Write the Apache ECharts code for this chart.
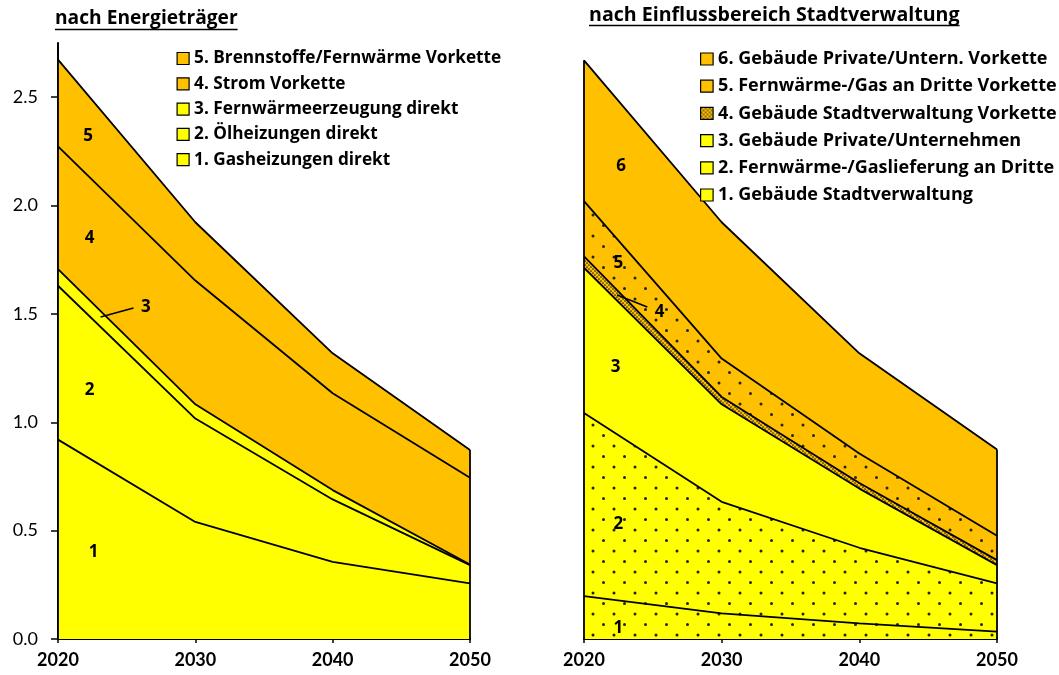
<!DOCTYPE html>
<html><head><meta charset="utf-8">
<script src="https://cdn.jsdelivr.net/npm/echarts@6/dist/echarts.min.js"></script>
<style>html,body{margin:0;padding:0;background:#fff}#c{width:1059px;height:675px}</style>
</head><body><div id="c"></div>
<script>
// ---------- data ----------
const years = [2020, 2030, 2040, 2050];
const yTicks = [0, 0.5, 1, 1.5, 2, 2.5];

const leftTitle = 'nach Energieträger';
const leftNames = ['1. Gasheizungen direkt', '2. Ölheizungen direkt', '3. Fernwärmeerzeugung direkt', '4. Strom Vorkette', '5. Brennstoffe/Fernwärme Vorkette'];
const gasDirekt   = [0.920, 0.540, 0.356, 0.257];
const oelDirekt   = [0.710, 0.477, 0.288, 0.084];
const fwDirekt    = [0.077, 0.066, 0.043, 0.003];
const stromVk     = [0.566, 0.571, 0.447, 0.400];
const brennVk     = [0.400, 0.269, 0.184, 0.128];
const leftLabels  = ['1', '2', '3', '4', '5'];

const rightTitle = 'nach Einflussbereich Stadtverwaltung';
const rightNames = ['1. Gebäude Stadtverwaltung', '2. Fernwärme-/Gaslieferung an Dritte', '3. Gebäude Private/Unternehmen', '4. Gebäude Stadtverwaltung Vorkette', '5. Fernwärme-/Gas an Dritte Vorkette', '6. Gebäude Private/Untern. Vorkette'];
const gebStadt    = [0.198, 0.118, 0.072, 0.034];
const fwDritte    = [0.845, 0.515, 0.349, 0.223];
const gebPrivat   = [0.670, 0.450, 0.273, 0.084];
const gebStadtVk  = [0.052, 0.034, 0.026, 0.023];
const fwDritteVk  = [0.255, 0.177, 0.136, 0.112];
const gebPrivatVk = [0.650, 0.629, 0.462, 0.398];
const rightLabels = ['1', '2', '3', '4', '5', '6'];

// ---------- styling ----------
const YEL = '#FFFF00', ORA = '#FFC000';
const FONT = '"Open Sans"';
const NUMFONT = 'Lato';
const LW = 1.8;

function tile(bg, size, dots, r, dc) {
  const c = document.createElement('canvas');
  c.width = size; c.height = size;
  const g = c.getContext('2d');
  g.fillStyle = bg; g.fillRect(0, 0, size, size);
  g.fillStyle = dc;
  dots.forEach(d => { g.beginPath(); g.arc(d[0], d[1], r, 0, Math.PI * 2); g.fill(); });
  return c;
}
const sparseYel = { image: tile(YEL, 21, [[5, 5], [15.5, 15.5]], 1.5, '#222'), repeat: 'repeat' };
const sparseOra = { image: tile(ORA, 21, [[5, 5], [15.5, 15.5]], 1.5, '#222'), repeat: 'repeat' };
const denseOra  = { image: tile(ORA, 4, [[1, 1], [3, 3]], 0.85, '#222'), repeat: 'repeat' };

const leftFills  = [YEL, YEL, YEL, ORA, ORA];
const rightFills = [sparseYel, sparseYel, YEL, denseOra, sparseOra, ORA];
const rightLegendFills = [YEL, YEL, YEL, denseOra, ORA, ORA];

function cumulate(layers) {
  const out = []; let acc = years.map(() => 0);
  layers.forEach(l => { acc = acc.map((v, i) => v + l[i]); out.push(acc.slice()); });
  return out;
}
const leftCum  = cumulate([gasDirekt, oelDirekt, fwDirekt, stromVk, brennVk]);
const rightCum = cumulate([gebStadt, fwDritte, gebPrivat, gebStadtVk, fwDritteVk, gebPrivatVk]);

function buildSeries(cum, names, fills, gi) {
  const s = [];
  const n = cum.length;
  for (let k = n - 1; k >= 0; k--) {
    const ser = {
      name: names[k], type: 'line', xAxisIndex: gi, yAxisIndex: gi,
      data: years.map((y, i) => [y, cum[k][i]]),
      showSymbol: false, symbol: 'none', silent: true, animation: false,
      lineStyle: { color: '#000', width: LW },
      itemStyle: { color: typeof fills[k] === 'string' ? fills[k] : '#000' },
      areaStyle: { color: fills[k], opacity: 1 },
      z: 2
    };
    if (k === n - 1) {
      const top = cum[k];
      ser.markLine = {
        silent: true, symbol: 'none', animation: false,
        label: { show: false },
        lineStyle: { color: '#000', width: LW, type: 'solid' },
        data: [
          [{ coord: [years[years.length - 1], 0] }, { coord: [years[years.length - 1], top[top.length - 1]] }],
          [{ coord: [years[0], 0] }, { coord: [years[0], top[0]] }]
        ]
      };
    }
    s.push(ser);
  }
  return s;
}

const xAxisBase = (gi) => ({
  type: 'value', gridIndex: gi, min: years[0], max: years[years.length - 1], interval: 10,
  axisLine: { show: true, lineStyle: { color: '#000', width: 2 } },
  axisTick: { show: true, length: 4, lineStyle: { color: '#000', width: 1.5 } },
  axisLabel: { formatter: v => String(v), color: '#000', fontFamily: NUMFONT, fontWeight: 'bold', fontSize: 18, margin: 12 },
  splitLine: { show: false }
});

const option = {
  backgroundColor: '#fff',
  animation: false,
  grid: [
    { left: 58, top: 43, width: 412, height: 596, containLabel: false },
    { left: 584, top: 43, width: 413, height: 596, containLabel: false }
  ],
  xAxis: [xAxisBase(0), xAxisBase(1)],
  yAxis: [
    {
      type: 'value', gridIndex: 0, min: 0, max: 2.75, interval: 0.5,
      axisLine: { show: true, lineStyle: { color: '#000', width: 2 } },
      axisTick: { show: true, length: 7, customValues: yTicks, lineStyle: { color: '#000', width: 1.5 } },
      axisLabel: { customValues: yTicks, formatter: v => Number(v).toFixed(1), color: '#000', fontFamily: NUMFONT, fontSize: 18, margin: 20 },
      splitLine: { show: false }
    },
    {
      type: 'value', gridIndex: 1, min: 0, max: 2.75, interval: 0.5,
      axisLine: { show: false }, axisTick: { show: false }, axisLabel: { show: false }, splitLine: { show: false }
    }
  ],
  legend: [
    {
      orient: 'vertical', left: 171.5, top: 45, icon: 'rect', itemWidth: 12, itemHeight: 12, itemGap: 8.3,
      selectedMode: false,
      textStyle: { fontFamily: FONT, fontWeight: 'bold', fontSize: 17.2, lineHeight: 17, color: '#000' },
      data: leftNames.slice().reverse().map((n) => {
        const k = leftNames.indexOf(n);
        return { name: n, itemStyle: { color: leftFills[k], borderColor: '#000', borderWidth: 1.2 } };
      })
    },
    {
      orient: 'vertical', left: 695, top: 45, icon: 'rect', itemWidth: 12.5, itemHeight: 12, itemGap: 9.2,
      selectedMode: false,
      textStyle: { fontFamily: FONT, fontWeight: 'bold', fontSize: 18, lineHeight: 17, color: '#000' },
      data: rightNames.slice().reverse().map((n) => {
        const k = rightNames.indexOf(n);
        return { name: n, itemStyle: { color: rightLegendFills[k], borderColor: '#000', borderWidth: 1.2 } };
      })
    }
  ],
  series: [].concat(
    buildSeries(leftCum, leftNames, leftFills, 0),
    buildSeries(rightCum, rightNames, rightFills, 1)
  )
};

const chart = echarts.init(document.getElementById('c'), null, { renderer: 'canvas' });
chart.setOption(option);

// ---------- annotations (in data coordinates) ----------
const leftLabelPos  = [[2022.6, 0.40], [2022.3, 1.15], [2026.4, 1.53], [2022.3, 1.85], [2022.2, 2.32]];
const leftLeader    = [[2023.1, 1.486], [2025.5, 1.527]];
const rightLabelPos = [[2022.5, 0.05], [2022.5, 0.53], [2022.3, 1.255], [2025.5, 1.51], [2022.5, 1.735], [2022.7, 2.18]];
const rightLeader   = [[2022.4, 1.587], [2024.6, 1.532]];

function measure(txt, font) {
  const c = document.createElement('canvas').getContext('2d');
  c.font = font; return c.measureText(txt).width;
}
const g = [];
function addLabels(pos, labels, gi) {
  pos.forEach((p, i) => {
    const px = chart.convertToPixel({ gridIndex: gi }, p);
    g.push({ type: 'text', x: px[0], y: px[1], silent: true, z: 100,
      style: { text: labels[i], fill: '#000', font: 'bold 17px ' + FONT, align: 'center', verticalAlign: 'middle' } });
  });
}
function addLeader(seg, gi) {
  const a = chart.convertToPixel({ gridIndex: gi }, seg[0]);
  const b = chart.convertToPixel({ gridIndex: gi }, seg[1]);
  g.push({ type: 'line', silent: true, shape: { x1: a[0], y1: a[1], x2: b[0], y2: b[1] }, style: { stroke: '#000', lineWidth: 1.5 }, z: 100 });
}
addLabels(leftLabelPos, leftLabels, 0);
addLabels(rightLabelPos, rightLabels, 1);
addLeader(leftLeader, 0);
addLeader(rightLeader, 1);

function addTitle(txt, x, yMid, yLine, size) {
  const font = 'bold ' + size + 'px ' + FONT;
  const w = measure(txt, font);
  g.push({ type: 'text', x: x, y: yMid, silent: true, z: 100, style: { text: txt, fill: '#000', font: font, align: 'left', verticalAlign: 'middle' } });
  g.push({ type: 'line', silent: true, z: 100, shape: { x1: x, y1: yLine, x2: x + w, y2: yLine }, style: { stroke: '#000', lineWidth: 1.5 } });
}
addTitle(leftTitle, 55, 19, 29.5, 19.2);
addTitle(rightTitle, 589, 15.5, 25.5, 19.6);

chart.setOption({ graphic: g });
</script></body></html>
